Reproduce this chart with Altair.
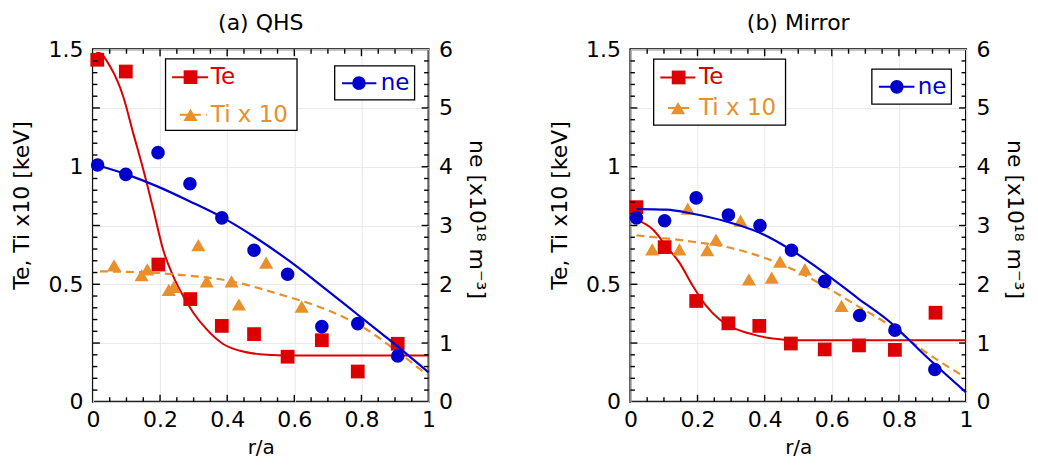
import altair as alt
import pandas as pd

# ---------------- data: panel (a) QHS ----------------
A_TE_R = [0.013, 0.098, 0.195, 0.290, 0.384, 0.480, 0.580, 0.682, 0.789, 0.908]
A_TE = [1.455, 1.405, 0.584, 0.437, 0.323, 0.288, 0.192, 0.262, 0.129, 0.247]
A_NE_R = [0.014, 0.098, 0.194, 0.289, 0.384, 0.480, 0.580, 0.682, 0.789, 0.908]
A_NE = [4.03, 3.87, 4.24, 3.71, 3.13, 2.58, 2.17, 1.28, 1.33, 0.78]
A_TI_R = [0.063, 0.145, 0.162, 0.226, 0.241, 0.314, 0.339, 0.413, 0.435, 0.516, 0.622]
A_TI = [0.580, 0.539, 0.563, 0.476, 0.489, 0.667, 0.512, 0.512, 0.414, 0.592, 0.405]

A_TE_FIT_R = [0.01, 0.021, 0.051, 0.09, 0.12, 0.15, 0.18, 0.209, 0.239, 0.269, 0.299, 0.339, 0.389, 0.438, 0.498, 0.55, 0.6, 1.0]
A_TE_FIT = [1.485, 1.483, 1.427, 1.30, 1.143, 0.988, 0.818, 0.648, 0.535, 0.45, 0.379, 0.308, 0.245, 0.217, 0.202, 0.198, 0.197, 0.197]
A_NE_FIT_R = [0.016, 0.1, 0.19, 0.289, 0.388, 0.483, 0.582, 0.682, 0.781, 0.88, 1.0]
A_NE_FIT = [4.02, 3.87, 3.67, 3.41, 3.13, 2.80, 2.41, 1.97, 1.52, 1.07, 0.50]
A_TI_FIT_R = [0.021, 0.19, 0.259, 0.408, 0.557, 0.706, 0.806, 0.905, 0.994]
A_TI_FIT = [0.555, 0.548, 0.540, 0.514, 0.457, 0.386, 0.316, 0.216, 0.117]

# ---------------- data: panel (b) Mirror ----------------
B_TE_R = [0.018, 0.102, 0.196, 0.292, 0.384, 0.478, 0.579, 0.681, 0.788, 0.909]
B_TE = [0.828, 0.658, 0.429, 0.334, 0.323, 0.248, 0.223, 0.240, 0.221, 0.379]
B_NE_R = [0.018, 0.102, 0.196, 0.292, 0.386, 0.480, 0.579, 0.683, 0.788, 0.907]
B_NE = [3.13, 3.08, 3.47, 3.18, 3.00, 2.58, 2.05, 1.47, 1.22, 0.55]
B_TI_R = [0.065, 0.146, 0.171, 0.229, 0.255, 0.328, 0.353, 0.421, 0.446, 0.520, 0.629]
B_TI = [0.648, 0.648, 0.822, 0.645, 0.690, 0.771, 0.521, 0.528, 0.596, 0.563, 0.408]

B_TE_FIT_R = [0.018, 0.067, 0.107, 0.146, 0.186, 0.226, 0.265, 0.305, 0.364, 0.424, 0.493, 1.0]
B_TE_FIT = [0.775, 0.733, 0.662, 0.592, 0.493, 0.408, 0.351, 0.316, 0.287, 0.269, 0.262, 0.262]
B_NE_FIT_R = [0.018, 0.107, 0.186, 0.285, 0.384, 0.480, 0.577, 0.676, 0.775, 0.874, 1.0]
B_NE_FIT = [3.28, 3.27, 3.20, 3.07, 2.88, 2.58, 2.20, 1.77, 1.35, 0.81, 0.16]
B_TI_FIT_R = [0.018, 0.186, 0.285, 0.384, 0.485, 0.577, 0.676, 0.775, 0.874, 0.983]
B_TI_FIT = [0.708, 0.681, 0.659, 0.620, 0.563, 0.493, 0.408, 0.323, 0.217, 0.117]

# ---------------- axis ticks / labels ----------------
X_LABELS = [0, 0.2, 0.4, 0.6, 0.8, 1.0]
X_MAJOR = [0.2, 0.4, 0.6, 0.8]
X_MINOR = [0.05, 0.1, 0.15, 0.25, 0.3, 0.35, 0.45, 0.5, 0.55, 0.65, 0.7, 0.75, 0.85, 0.9, 0.95]
Y_LABELS = [0, 0.5, 1.0, 1.5]
Y_MAJOR = [0.25, 0.5, 0.75, 1.0, 1.25]
Y_MINOR = [0.05, 0.1, 0.15, 0.2, 0.3, 0.35, 0.4, 0.45, 0.55, 0.6, 0.65, 0.7,
           0.8, 0.85, 0.9, 0.95, 1.05, 1.1, 1.15, 1.2, 1.3, 1.35, 1.4, 1.45]
NE_LABELS = [0, 1, 2, 3, 4, 5, 6]

RED = "#dd0000"
BLUE = "#0000cc"
ORANGE = "#e8902c"
GRID = "#e8e8e8"
FONT = "DejaVu Sans"
W, H = 336, 353
ONE = alt.Data(values=[{"k": 1}])


def panel(te_r, te, ti_r, ti, ne_r, ne, tef_r, tef, tif_r, tif, nef_r, nef, title, leg):
    xs = alt.Scale(domain=[0, 1], nice=False, zero=False)
    ys = alt.Scale(domain=[0, 1.5], nice=False)
    ns = alt.Scale(domain=[0, 6], nice=False)
    xaxis = alt.Axis(values=X_LABELS, format=".1~f", title="r/a", grid=True, gridColor=GRID,
                     ticks=False, domain=False, labelPadding=8, titlePadding=7, titleFontSize=20,
                     labelFlush=False, labelOverlap=False)
    yaxis = alt.Axis(values=Y_LABELS, format=".1~f", title="Te, Ti x10 [keV]", grid=False,
                     ticks=False, domain=False, labelPadding=10, titlePadding=14, titleY=156)
    naxis = alt.Axis(orient="right", values=NE_LABELS, format="d", title="ne [x10¹⁸ m⁻³]",
                     grid=True, gridColor=GRID, ticks=False, domain=False,
                     labelPadding=10, titlePadding=12, titleY=170)

    def X(f="r:Q"):
        return alt.X(f, scale=xs, axis=xaxis)

    def Y(f="v:Q"):
        return alt.Y(f, scale=ys, axis=yaxis)

    def N(f="v:Q"):
        return alt.Y(f, scale=ns, axis=naxis)

    te_fit = alt.Chart(pd.DataFrame({"r": tef_r, "v": tef})).mark_line(
        color=RED, strokeWidth=2, interpolate="monotone").encode(x=X(), y=Y())
    ti_fit = alt.Chart(pd.DataFrame({"r": tif_r, "v": tif})).mark_line(
        color=ORANGE, strokeWidth=2.2, strokeDash=[8, 5], interpolate="monotone").encode(x=X(), y=Y())
    te_pts = alt.Chart(pd.DataFrame({"r": te_r, "v": te})).mark_point(
        shape="square", filled=True, size=190, color=RED, opacity=1).encode(x=X(), y=Y())
    ti_pts = alt.Chart(pd.DataFrame({"r": ti_r, "v": ti})).mark_point(
        shape="triangle-up", filled=True, size=200, color=ORANGE, opacity=1).encode(x=X(), y=Y())

    def ticks(vals, length, side):
        m = alt.Chart(pd.DataFrame({"t": vals})).mark_rule(color="black", strokeWidth=1.4)
        if side == "bottom":
            return m.encode(x=X("t:Q"), y=alt.value(H), y2=alt.value(H - length))
        if side == "top":
            return m.encode(x=X("t:Q"), y=alt.value(0), y2=alt.value(length))
        if side == "left":
            return m.encode(y=Y("t:Q"), x=alt.value(0), x2=alt.value(length))
        return m.encode(y=Y("t:Q"), x=alt.value(W), x2=alt.value(W - length))

    tick_layers = []
    for side in ["bottom", "top"]:
        tick_layers.append(ticks(X_MAJOR, 7, side))
        tick_layers.append(ticks(X_MINOR, 4.5, side))
    for side in ["left", "right"]:
        tick_layers.append(ticks(Y_MAJOR, 7, side))
        tick_layers.append(ticks(Y_MINOR, 4.5, side))

    left = alt.layer(te_fit, ti_fit, te_pts, ti_pts, *tick_layers)

    ne_fit = alt.Chart(pd.DataFrame({"r": nef_r, "v": nef})).mark_line(
        color=BLUE, strokeWidth=2.2, interpolate="monotone").encode(x=X(), y=N())
    ne_pts = alt.Chart(pd.DataFrame({"r": ne_r, "v": ne})).mark_point(
        shape="circle", filled=True, size=185, color=BLUE, opacity=1).encode(x=X(), y=N())
    right = alt.layer(ne_fit, ne_pts)

    # ---- legends (decoration) ----
    b1, b2, te_e, ti_e, ne_e = leg
    L = []
    for (x1, x2, y1, y2) in (b1, b2):
        L.append(alt.Chart(ONE).mark_rect(fill="white", stroke="black", strokeWidth=1.3).encode(
            x=alt.value(x1), x2=alt.value(x2), y=alt.value(y1), y2=alt.value(y2)))
    entries = [(te_e, RED, "square", 190, "Te", None),
               (ti_e, ORANGE, "triangle-up", 200, "Ti x 10", [8, 5]),
               (ne_e, BLUE, "circle", 185, "ne", None)]
    for (lx1, lx2, mx, tx, yy), col, shp, sz, txt, dash in entries:
        rule_kw = dict(color=col, strokeWidth=2)
        if dash:
            rule_kw["strokeDash"] = dash
        L.append(alt.Chart(ONE).mark_rule(**rule_kw).encode(
            x=alt.value(lx1), x2=alt.value(lx2), y=alt.value(yy)))
        L.append(alt.Chart(ONE).mark_point(shape=shp, filled=True, size=sz, color=col, opacity=1).encode(
            x=alt.value(mx), y=alt.value(yy)))
        L.append(alt.Chart(ONE).mark_text(text=txt, align="left", baseline="middle", font=FONT,
                                          fontSize=23, color=col).encode(x=alt.value(tx), y=alt.value(yy)))
    legend = alt.layer(*L)

    return alt.layer(left, right, legend).resolve_scale(y="independent").properties(
        width=W, height=H,
        title=alt.TitleParams(title, font=FONT, fontSize=22, fontWeight="normal",
                              anchor="middle", offset=3, color="black"))


LEG_A = ((72.7, 204.3, 9.7, 81.3), (242, 322, 16.7, 50.7),
         (79.3, 115.3, 97.7, 118, 28), (87, 114, 97.7, 118, 65.7),
         (249.3, 283.7, 266.3, 288, 34))
LEG_B = ((23.3, 155.3, 10, 76), (241.7, 321.3, 20, 55),
         (30, 65, 48.3, 68.7, 28.3), (37.7, 63.3, 47.7, 68.7, 59),
         (248.7, 284.3, 266.7, 287.7, 37.7))

pa = panel(A_TE_R, A_TE, A_TI_R, A_TI, A_NE_R, A_NE, A_TE_FIT_R, A_TE_FIT,
           A_TI_FIT_R, A_TI_FIT, A_NE_FIT_R, A_NE_FIT, "(a) QHS", LEG_A)
pb = panel(B_TE_R, B_TE, B_TI_R, B_TI, B_NE_R, B_NE, B_TE_FIT_R, B_TE_FIT,
           B_TI_FIT_R, B_TI_FIT, B_NE_FIT_R, B_NE_FIT, "(b) Mirror", LEG_B)

chart = alt.hconcat(pa, pb, spacing=59).properties(
    background="white", padding={"left": 2, "top": 3, "right": 4, "bottom": 0}).configure_view(
    stroke="black", strokeWidth=2).configure_axis(
    labelFont=FONT, titleFont=FONT, labelFontSize=22, titleFontSize=22,
    titleFontWeight="normal", labelColor="black", titleColor="black")

chart.save("out.html", embed_options={"renderer": "svg", "actions": False})
